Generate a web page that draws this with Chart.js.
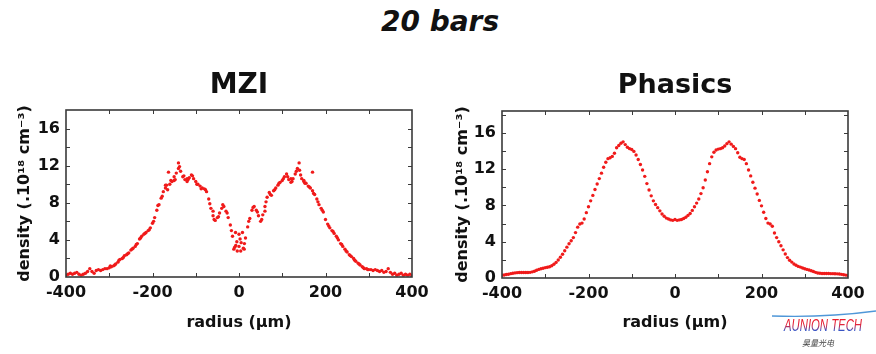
<!DOCTYPE html>
<html><head><meta charset="utf-8">
<script src="https://cdn.jsdelivr.net/npm/chart.js@4/dist/chart.umd.min.js"></script>
<style>
html,body{margin:0;padding:0;background:#fff;}
body{width:876px;height:354px;position:relative;overflow:hidden;}
#main{position:absolute;left:2px;top:5px;width:876px;text-align:center;font:italic bold 28px "DejaVu Sans";line-height:34px;color:#111;}
.box{position:absolute;top:0;width:438px;height:354px;}
</style></head>
<body>
<div id="main">20 bars</div>
<div class="box" style="left:0"><canvas id="c1" width="438" height="354"></canvas></div>
<div class="box" style="left:438px"><canvas id="c2" width="438" height="354"></canvas></div>
<script>
// ---- data ----
const radius = [
-400,-395,-390,-385,-380,-375,-370,-365,-360,-355,
-350,-345,-340,-335,-330,-325,-320,-315,-310,-305,
-300,-295,-290,-285,-280,-275,-270,-265,-260,-255,
-250,-245,-240,-235,-230,-225,-220,-215,-210,-205,
-200,-195,-190,-185,-180,-175,-170,-165,-160,-155,
-150,-145,-140,-135,-130,-125,-120,-115,-110,-105,
-100,-95,-90,-85,-80,-75,-70,-65,-60,-55,
-50,-45,-40,-35,-30,-25,-20,-15,-10,-5,
0,
5,10,15,20,25,30,35,40,45,50,
55,60,65,70,75,80,85,90,95,100,
105,110,115,120,125,130,135,140,145,150,
155,160,165,170,175,180,185,190,195,200,
205,210,215,220,225,230,235,240,245,250,
255,260,265,270,275,280,285,290,295,300,
305,310,315,320,325,330,335,340,345,350,
355,360,365,370,375,380,385,390,395,400];

const mziDensity = [
0.2,0.3,0.4,0.3,0.4,0.5,0.3,0.2,0.3,0.4,
0.6,0.9,0.6,0.4,0.7,0.8,0.7,0.8,0.9,0.9,
1.0,1.1,1.2,1.4,1.6,1.9,2.0,2.3,2.4,2.6,
2.9,3.1,3.3,3.6,4.1,4.4,4.6,4.8,5.0,5.3,
5.8,6.4,7.2,7.8,8.5,9.2,9.6,9.4,10.0,10.3,
10.8,11.2,11.7,11.4,10.8,10.5,10.3,10.7,11.0,10.6,
10.3,10.0,9.8,9.6,9.5,9.2,8.4,7.4,6.6,6.1,
6.4,6.9,7.4,7.6,7.1,6.4,5.6,4.4,3.2,3.8,
4.6,
3.7,3.1,4.2,5.4,6.3,7.2,7.6,7.2,6.6,6.0,
6.7,7.6,8.6,9.1,8.8,9.3,9.6,9.9,10.2,10.4,
10.8,11.1,10.5,10.2,10.6,11.1,11.7,11.5,10.6,10.3,
10.1,9.8,9.6,9.3,8.9,8.4,7.8,7.4,7.0,6.2,
5.7,5.3,5.0,4.7,4.4,4.0,3.6,3.3,3.0,2.7,
2.4,2.2,2.0,1.7,1.5,1.3,1.1,0.9,0.9,0.8,
0.8,0.7,0.8,0.7,0.6,0.7,0.5,0.6,0.9,0.5,
0.3,0.4,0.2,0.3,0.4,0.2,0.3,0.2,0.3,0.1];

// extra scattered MZI samples (spread of the measured cloud and outliers)
const mziExtraRadius = [
-297.5,-287.5,-277.5,-267.5,-257.5,-247.5,-237.5,-227.5,-217.5,-207.5,
-197.5,-187.5,-177.5,-167.5,-157.5,-147.5,-137.5,-127.5,-117.5,-107.5,
-97.5,-87.5,-77.5,-67.5,-57.5,-47.5,-37.5,-27.5,-17.5,-7.5,
2.5,12.5,22.5,32.5,42.5,52.5,62.5,72.5,82.5,92.5,
102.5,112.5,122.5,132.5,142.5,152.5,162.5,172.5,182.5,192.5,
207.5,217.5,227.5,237.5,247.5,257.5,267.5,277.5,287.5,297.5,
-170,-163,-150,-140,-120,-60,-12,-8,-4,0,4,8,12,60,120,139,150,170];
const mziExtraDensity = [
1.2,1.3,1.8,2.1,2.5,3.0,3.5,4.2,4.7,5.1,
6.0,7.7,8.7,9.9,10.4,10.5,11.9,10.9,10.5,10.9,
10.0,9.5,9.4,7.9,6.2,6.5,7.8,6.9,5.0,3.4,
4.1,3.6,6.0,7.5,7.0,6.2,8.1,8.9,9.4,10.1,
10.6,10.8,10.3,11.4,11.0,10.1,9.7,9.0,8.1,7.2,
5.5,4.9,4.2,3.5,2.8,2.3,1.8,1.4,1.0,0.8,
9.9,11.3,10.4,12.3,10.6,7.1,3.0,4.8,2.8,3.3,2.8,4.8,3.0,7.1,10.6,12.3,10.4,11.3];

const phasicsDensity = [
0.30,0.33,0.38,0.42,0.48,0.52,0.56,0.59,0.60,0.60,
0.60,0.60,0.61,0.62,0.68,0.75,0.85,0.95,1.02,1.08,
1.14,1.18,1.24,1.35,1.52,1.72,1.98,2.28,2.62,3.00,
3.40,3.78,4.10,4.45,5.00,5.60,5.95,6.05,6.50,7.20,
7.85,8.50,9.10,9.75,10.35,10.95,11.55,12.20,12.75,13.15,
13.25,13.40,13.75,14.35,14.60,14.85,15.00,14.70,14.40,14.25,
14.15,13.95,13.55,13.05,12.50,11.90,11.20,10.40,9.70,9.05,
8.50,8.10,7.75,7.40,7.05,6.80,6.60,6.50,6.40,6.35,
6.45,
6.35,6.40,6.45,6.55,6.70,6.90,7.10,7.45,7.85,8.25,
8.70,9.30,9.95,10.80,11.70,12.60,13.35,13.85,14.10,14.20,
14.25,14.35,14.55,14.80,15.00,14.75,14.50,14.25,13.80,13.30,
13.15,13.05,12.60,11.90,11.25,10.55,9.90,9.25,8.55,7.95,
7.25,6.55,6.05,5.95,5.70,4.95,4.45,4.00,3.55,3.10,
2.65,2.25,1.95,1.75,1.55,1.40,1.28,1.20,1.10,1.02,
0.95,0.88,0.80,0.72,0.62,0.55,0.52,0.50,0.50,0.50,
0.50,0.48,0.48,0.47,0.46,0.44,0.40,0.36,0.32,0.28];

const xTickLabels = [-400,-200,0,200,400];
const yTickLabels = [0,4,8,12,16];
const xMinorTicks = [-300,-200,-100,0,100,200,300];
const yMinorTicks = [2,4,6,8,10,12,14,16,18];

// ---- styling ----
const FONT = '"DejaVu Sans", "Liberation Sans", Arial, sans-serif';
const RED = '#f01a1a';
const INK = '#111111';

const frameTicks = {
  id: 'frameTicks',
  afterDatasetsDraw(chart) {
    const {ctx, chartArea: a, scales: {x, y}} = chart;
    ctx.save();
    ctx.strokeStyle = '#3a3a3a';
    ctx.lineWidth = 1;
    ctx.beginPath();
    xMinorTicks.forEach(v => {
      const px = Math.round(x.getPixelForValue(v)) + 0.5;
      ctx.moveTo(px, a.bottom); ctx.lineTo(px, a.bottom - 4);
      ctx.moveTo(px, a.top); ctx.lineTo(px, a.top + 4);
    });
    yMinorTicks.forEach(v => {
      if (v >= y.max) return;
      const py = Math.round(y.getPixelForValue(v)) + 0.5;
      ctx.moveTo(a.left, py); ctx.lineTo(a.left + 4, py);
      ctx.moveTo(a.right, py); ctx.lineTo(a.right - 4, py);
    });
    ctx.stroke();
    ctx.lineWidth = 1.6;
    ctx.strokeRect(a.left, a.top, a.right - a.left, a.bottom - a.top);
    ctx.restore();
  }
};

const logo = {
  id: 'logo',
  afterDraw(chart) {
    const ctx = chart.ctx;
    ctx.save();
    ctx.strokeStyle = '#4f97d8';
    ctx.lineWidth = 1.3;
    ctx.beginPath();
    ctx.moveTo(334, 316);
    ctx.quadraticCurveTo(385, 318, 438, 311);
    ctx.stroke();
    const g = ctx.createLinearGradient(0, 319, 0, 331);
    g.addColorStop(0, '#ec1c2c');
    g.addColorStop(0.5, '#e0263c');
    g.addColorStop(1, '#2a58d0');
    ctx.fillStyle = g;
    ctx.font = 'italic 16px "Liberation Sans", Arial, sans-serif';
    ctx.textBaseline = 'alphabetic';
    ctx.textAlign = 'left';
    ctx.fillText('AUNION TECH', 346, 331, 78);
    ctx.fillStyle = '#444';
    ctx.font = 'italic 8px "Noto Sans CJK SC", sans-serif';
    ctx.textAlign = 'center';
    ctx.fillText('昊量光电', 380, 346);
    ctx.restore();
  }
};

function makeChart(id, title, datasets, cfg) {
  return new Chart(document.getElementById(id), {
    type: 'scatter',
    data: {datasets},
    options: {
      responsive: false,
      animation: false,
      events: [],
      layout: {padding: {left: 0, right: cfg.padRight, top: 0, bottom: 0}},
      plugins: {
        legend: {display: false},
        tooltip: {enabled: false},
        title: {
          display: true, text: title, fullSize: false, color: INK,
          font: {family: FONT, size: cfg.titleSize, weight: 'bold'},
          padding: {top: cfg.titleTop, bottom: cfg.titleBottom}
        }
      },
      scales: {
        x: {
          type: 'linear', min: -400, max: 400,
          afterBuildTicks: s => { s.ticks = xTickLabels.map(v => ({value: v})); },
          afterFit: s => { s.height = cfg.xAxisHeight; },
          grid: {display: false, drawTicks: false},
          border: {display: false},
          ticks: {color: INK, font: {family: FONT, size: 16, weight: 'bold'}, padding: 6, maxRotation: 0, autoSkip: false},
          title: {display: true, text: 'radius (µm)', color: INK,
                  font: {family: FONT, size: 16, weight: 'bold'}, padding: {top: 0, bottom: 22}}
        },
        y: {
          type: 'linear', min: 0, max: cfg.yMax,
          afterBuildTicks: s => { s.ticks = yTickLabels.map(v => ({value: v})); },
          afterFit: s => { s.width = cfg.yAxisWidth; },
          grid: {display: false, drawTicks: false},
          border: {display: false},
          ticks: {color: INK, font: {family: FONT, size: 16, weight: 'bold'}, padding: 6},
          title: {display: true, text: 'density (.10¹⁸ cm⁻³)', color: INK,
                  font: {family: FONT, size: 16, weight: 'bold'}, padding: {top: 15, bottom: 0}}
        }
      }
    },
    plugins: cfg.plugins
  });
}

const pointStyle = {showLine: false, backgroundColor: RED, borderWidth: 0, pointRadius: 1.7};

makeChart('c1', 'MZI', [
  Object.assign({label: 'MZI', data: radius.map((r, i) => ({x: r, y: mziDensity[i]}))}, pointStyle),
  Object.assign({label: 'MZI extra', data: mziExtraRadius.map((r, i) => ({x: r, y: mziExtraDensity[i]}))}, pointStyle)
], {padRight: 26, yAxisWidth: 66, xAxisHeight: 77, yMax: 18, titleSize: 28, titleTop: 69, titleBottom: 7.4, plugins: [frameTicks]});

makeChart('c2', 'Phasics', [
  Object.assign({label: 'Phasics', data: radius.map((r, i) => ({x: r, y: phasicsDensity[i]}))}, pointStyle, {pointRadius: 1.7})
], {padRight: 28, yAxisWidth: 64, xAxisHeight: 76, yMax: 18.4, titleSize: 27, titleTop: 69.8, titleBottom: 8.8, plugins: [frameTicks, logo]});
</script>
</body></html>
